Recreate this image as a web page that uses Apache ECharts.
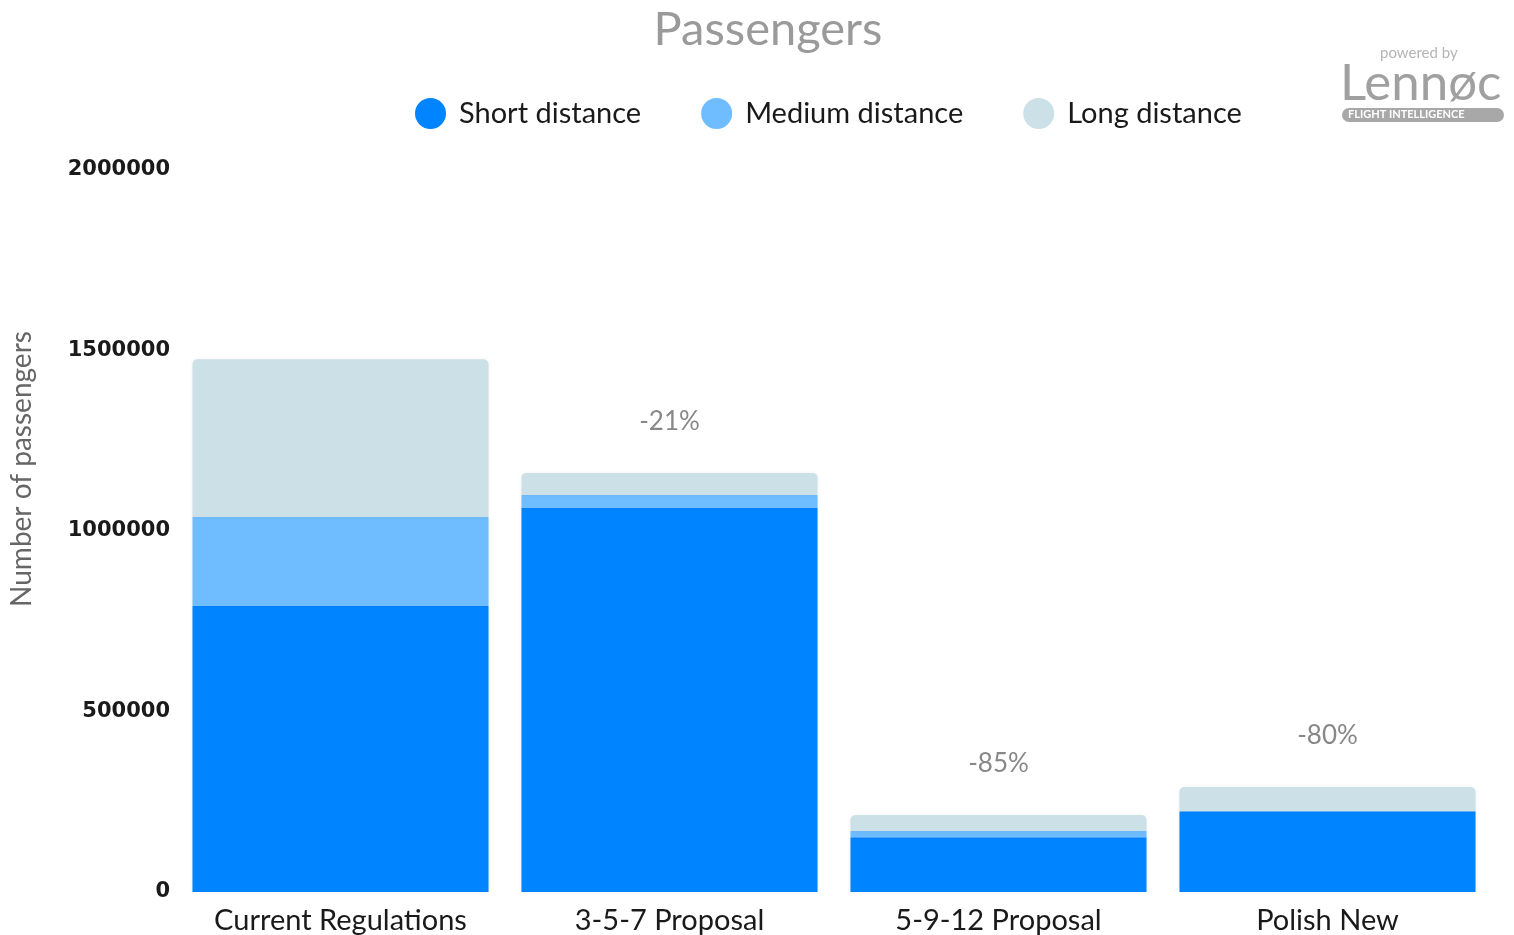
<!DOCTYPE html>
<html>
<head>
<meta charset="utf-8">
<script src="https://cdn.jsdelivr.net/npm/echarts@6/dist/echarts.min.js"></script>
<style>html,body{margin:0;padding:0;background:#fff;}#c{width:1514px;height:935px;}</style>
</head>
<body>
<div id="c"></div>
<script>
var categories = ['Current Regulations', '3-5-7 Proposal', '5-9-12 Proposal', 'Polish New'];
var shortVals = [792000, 1064000, 152000, 224000];
var mediumVals = [247000, 36000, 17000, 0];
var longVals = [437000, 61000, 44000, 67000];
var pctLabels = ['', '-21%', '-85%', '-80%'];
var yTicks = [0, 500000, 1000000, 1500000, 2000000];

var FONT = 'Lato, "Open Sans", sans-serif';
var chart = echarts.init(document.getElementById('c'));
var barShadow = {shadowColor: 'rgba(0,0,0,0.06)', shadowBlur: 4};
chart.setOption({
  animation: false,
  title: {
    text: 'Passengers', left: 763, top: 1, textAlign: 'center',
    textStyle: {fontFamily: FONT, fontSize: 47, fontWeight: 'normal', color: '#9a9a9a'}
  },
  legend: {
    top: 93, left: 410, itemWidth: 31, itemHeight: 31, itemGap: 60, icon: 'circle',
    textStyle: {fontFamily: FONT, fontSize: 29, color: '#1a1a1a', padding: [0, 0, 0, 8]},
    data: ['Short distance', 'Medium distance', 'Long distance']
  },
  graphic: [
    {type: 'text', left: 1380, top: 46, style: {text: 'powered by', font: '15px ' + FONT, fill: '#b5b5b5'}},
    {type: 'text', left: 1340, top: 58, style: {text: 'Lennøc', font: '51px ' + FONT, fill: '#a0a0a0'}},
    {type: 'rect', left: 1342, top: 108, shape: {width: 162, height: 14, r: 7}, style: {fill: '#a8a8a8'}},
    {type: 'text', left: 1348, top: 109, style: {text: 'FLIGHT INTELLIGENCE', font: 'bold 11px ' + FONT, fill: '#fff'}},
    {type: 'text', x: 22, y: 469, rotation: Math.PI / 2,
      style: {text: 'Number of passengers', font: '28px ' + FONT, fill: '#666', align: 'center', verticalAlign: 'middle'}}
  ],
  grid: {left: 176, right: 22, top: 170, bottom: 43, containLabel: false},
  xAxis: {
    type: 'category', data: categories,
    axisLine: {show: false}, axisTick: {show: false},
    axisLabel: {fontFamily: FONT, fontSize: 29, color: '#1a1a1a', margin: 14}
  },
  yAxis: {
    type: 'value', min: yTicks[0], max: yTicks[yTicks.length - 1], interval: 500000,
    splitLine: {show: false}, axisLine: {show: false}, axisTick: {show: false},
    axisLabel: {fontFamily: '"DejaVu Sans", sans-serif', fontSize: 21, fontWeight: 'bold', color: '#1a1a1a', margin: 6,
      formatter: function (v) { return String(v); }}
  },
  series: [
    {name: 'Short distance', type: 'bar', stack: 'a', data: shortVals, barCategoryGap: '10%',
      itemStyle: Object.assign({color: '#0084ff'}, barShadow)},
    {name: 'Medium distance', type: 'bar', stack: 'a', data: mediumVals,
      itemStyle: Object.assign({color: '#6fbdff'}, barShadow)},
    {name: 'Long distance', type: 'bar', stack: 'a',
      data: longVals.map(function (v, i) { return {value: v, label: {formatter: pctLabels[i]}}; }),
      itemStyle: Object.assign({color: '#cce0e8', borderRadius: [5, 5, 0, 0]}, barShadow),
      label: {show: true, position: 'top', distance: 38, fontFamily: FONT, fontSize: 26, color: '#888'}}
  ]
});
</script>
</body>
</html>
